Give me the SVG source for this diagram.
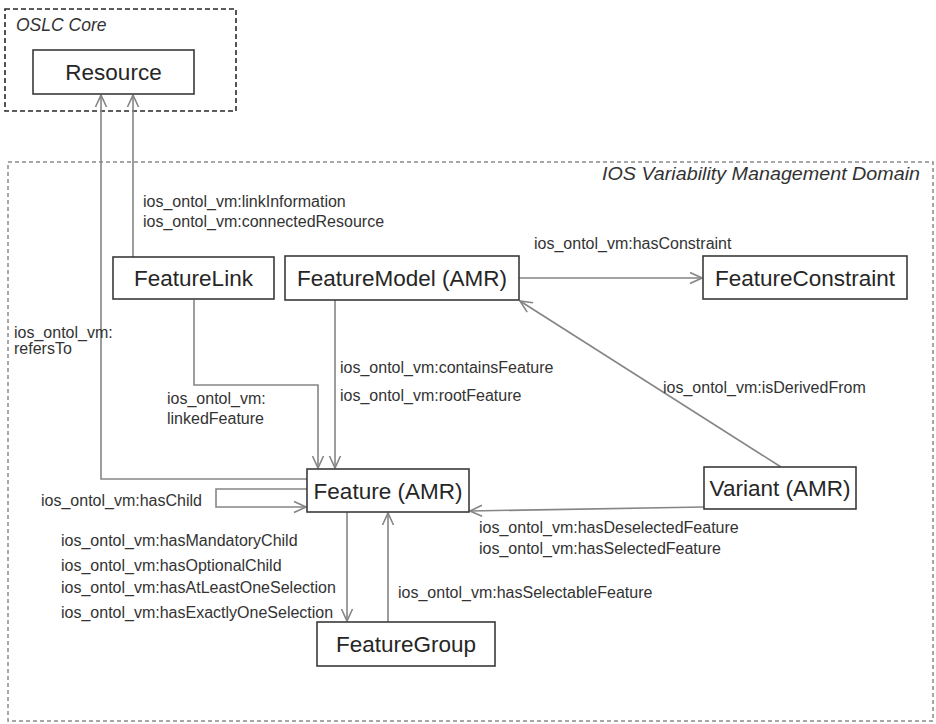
<svg xmlns="http://www.w3.org/2000/svg" width="936" height="724" viewBox="0 0 936 724">
  <style>
    .box { fill: #ffffff; stroke: #3a3a3a; stroke-width: 1.6; }
    .bt { font-family: "Liberation Sans", Arial, sans-serif; font-size: 22.5px; fill: #262626; text-anchor: middle; }
    .lbl { font-family: "Liberation Sans", Arial, sans-serif; font-size: 16px; fill: #333333; }
    .title { font-family: "Liberation Sans", Arial, sans-serif; font-style: italic; fill: #333333; }
    .conn { fill: none; stroke: #858585; stroke-width: 1.6; marker-end: url(#arr); }
    .plain { fill: none; stroke: #858585; stroke-width: 1.6; }
  </style>
  <defs>
    <marker id="arr" viewBox="0 0 14 14" refX="13" refY="7" markerWidth="14" markerHeight="14" markerUnits="userSpaceOnUse" orient="auto">
      <path d="M1,1.5 L13,7 L1,12.5" fill="none" stroke="#858585" stroke-width="1.6"/>
    </marker>
  </defs>
  <rect width="936" height="724" fill="#ffffff"/>

  <g id="oslc-core">
    <rect x="5" y="9" width="231" height="102" fill="none" stroke="#2a2a2a" stroke-width="1.6" stroke-dasharray="5 3"/>
    <text class="title" x="16" y="31" font-size="17.5px">OSLC Core</text>
  </g>

  <g id="ios-domain">
    <rect x="8" y="162" width="925" height="559" fill="none" stroke="#8a8a8a" stroke-width="1.5" stroke-dasharray="4 3"/>
    <text class="title" x="920" y="180" font-size="19px" text-anchor="end" textLength="318" lengthAdjust="spacingAndGlyphs">IOS Variability Management Domain</text>
  </g>

  <g id="connectors">
    <path class="conn" d="M307,479 H101 V95"/>
    <path class="conn" d="M133,257 V95"/>
    <path class="conn" d="M194,300 V385 H318 V468"/>
    <path class="conn" d="M335,300 V468"/>
    <path class="conn" d="M519,278 H702"/>
    <path class="conn" d="M781,467 L520,301"/>
    <path class="conn" d="M704,507 L470,511"/>
    <path class="conn" d="M307,489 H216 V507 H306"/>
    <path class="conn" d="M347,512 V621"/>
    <path class="conn" d="M388,622 V513"/>
  </g>

  <g id="labels">
    <text class="lbl" x="143" y="206.5">ios_ontol_vm:linkInformation</text>
    <text class="lbl" x="143" y="226.5">ios_ontol_vm:connectedResource</text>
    <text class="lbl" x="534" y="248.5">ios_ontol_vm:hasConstraint</text>
    <text class="lbl" x="14" y="337.5">ios_ontol_vm:</text>
    <text class="lbl" x="14" y="353.5">refersTo</text>
    <text class="lbl" x="340" y="372.5">ios_ontol_vm:containsFeature</text>
    <text class="lbl" x="340" y="400.5">ios_ontol_vm:rootFeature</text>
    <text class="lbl" x="167" y="403.5">ios_ontol_vm:</text>
    <text class="lbl" x="167" y="423.5">linkedFeature</text>
    <text class="lbl" x="663" y="392.5">ios_ontol_vm:isDerivedFrom</text>
    <text class="lbl" x="41" y="505.5">ios_ontol_vm:hasChild</text>
    <text class="lbl" x="61" y="545.5">ios_ontol_vm:hasMandatoryChild</text>
    <text class="lbl" x="61" y="570.5">ios_ontol_vm:hasOptionalChild</text>
    <text class="lbl" x="61" y="592.5">ios_ontol_vm:hasAtLeastOneSelection</text>
    <text class="lbl" x="61" y="617.5">ios_ontol_vm:hasExactlyOneSelection</text>
    <text class="lbl" x="479" y="532.5">ios_ontol_vm:hasDeselectedFeature</text>
    <text class="lbl" x="479" y="553.5">ios_ontol_vm:hasSelectedFeature</text>
    <text class="lbl" x="398" y="597.5">ios_ontol_vm:hasSelectableFeature</text>
  </g>

  <g id="resource">
    <rect class="box" x="33" y="50" width="161" height="44"/>
    <text class="bt" x="113.5" y="80">Resource</text>
  </g>
  <g id="feature-link">
    <rect class="box" x="113" y="257" width="161" height="42"/>
    <text class="bt" x="193.5" y="286">FeatureLink</text>
  </g>
  <g id="feature-model">
    <rect class="box" x="285" y="256" width="234" height="44"/>
    <text class="bt" x="402" y="286">FeatureModel (AMR)</text>
  </g>
  <g id="feature-constraint">
    <rect class="box" x="703" y="256" width="204" height="43"/>
    <text class="bt" x="805" y="285.5">FeatureConstraint</text>
  </g>
  <g id="feature">
    <rect class="box" x="307" y="469" width="162" height="43"/>
    <text class="bt" x="388" y="498.5">Feature (AMR)</text>
  </g>
  <g id="variant">
    <rect class="box" x="704" y="467" width="152" height="42"/>
    <text class="bt" x="780" y="496">Variant (AMR)</text>
  </g>
  <g id="feature-group">
    <rect class="box" x="317" y="622" width="178" height="44"/>
    <text class="bt" x="406" y="652">FeatureGroup</text>
  </g>
</svg>
